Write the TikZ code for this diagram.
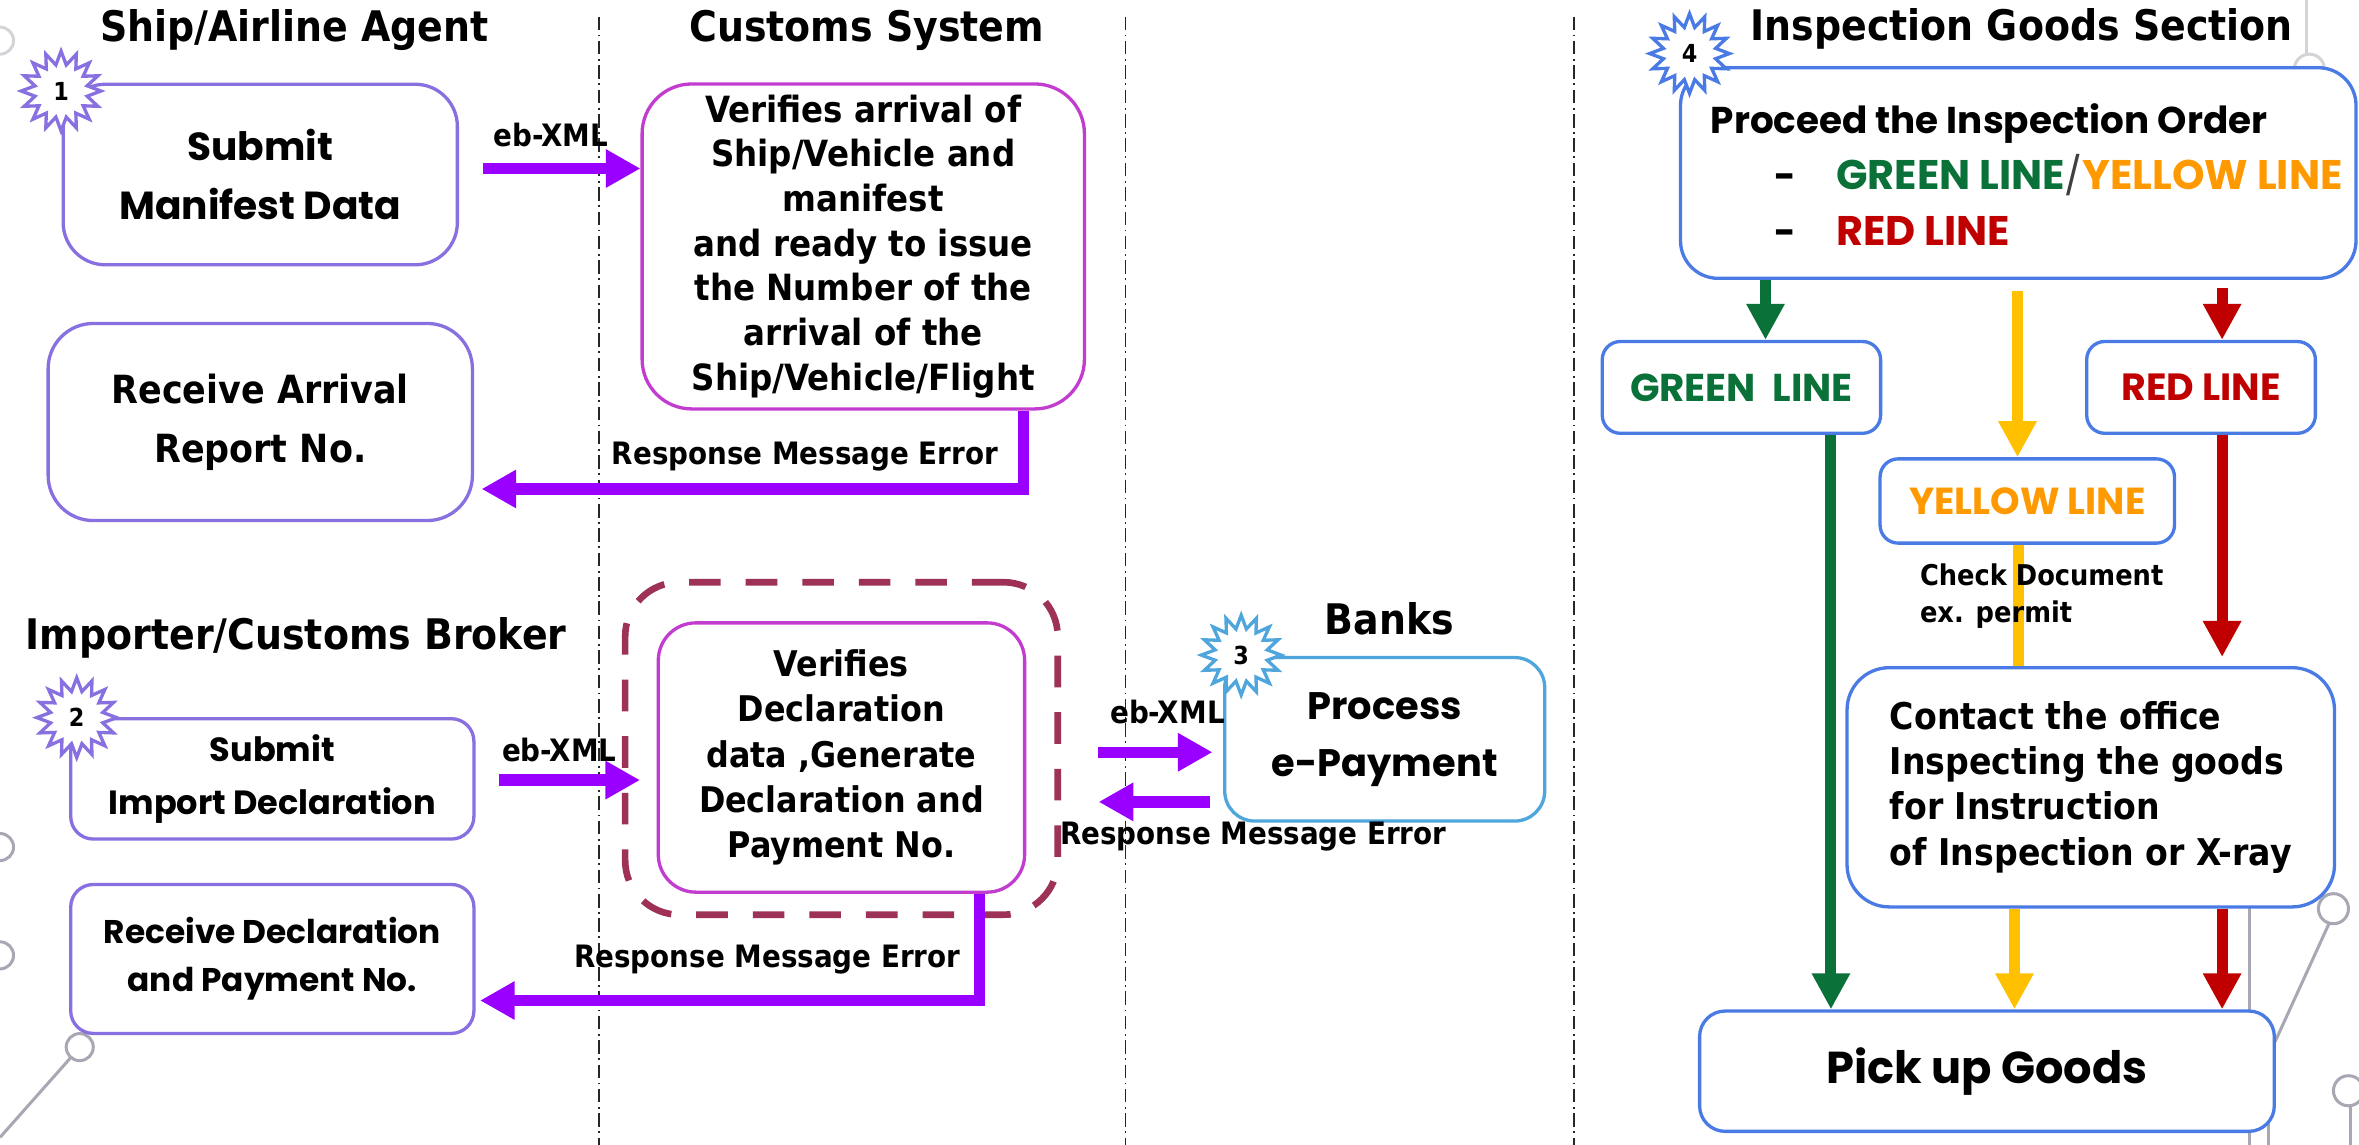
\documentclass[tikz,border=0pt]{standalone}
\usepackage{fontspec}
\setmainfont{DejaVu Sans Condensed}
\newfontfamily\geofont{Poppins}
\usetikzlibrary{arrows.meta}
\usetikzlibrary{shapes.geometric}

\definecolor{agentpurple}{HTML}{8970E0}
\definecolor{custmagenta}{HTML}{C23CD0}
\definecolor{framemaroon}{HTML}{9E3157}
\definecolor{msgviolet}{HTML}{9900FF}
\definecolor{bankblue}{HTML}{4EA6DC}
\definecolor{inspblue}{HTML}{4A7BE5}
\definecolor{linegreen}{HTML}{0A7139}
\definecolor{lineyellow}{HTML}{FFC000}
\definecolor{lineorange}{HTML}{FF9900}
\definecolor{linered}{HTML}{C00000}
\definecolor{decogray}{HTML}{A8A8B4}
\definecolor{decolight}{HTML}{D4D4D8}

\newcommand{\sysfs}[2]{\fontsize{#1}{#2}\selectfont\bfseries}
\newcommand{\geofs}[2]{\geofont\fontsize{#1}{#2}\selectfont\bfseries}

\tikzset{
  lane/.style={draw=black!85, line width=1.1pt, dash pattern=on 9pt off 3pt on 1.2pt off 3pt},
  deco/.style={draw=decogray, line width=2pt},
  box/.style={draw, fill=white, line width=2.2pt, align=center, inner sep=0pt},
  frame/.style={draw=framemaroon, line width=4.4pt, dash pattern=on 21pt off 16.6pt, rounded corners=36pt, inner sep=0pt},
  badge/.style={star, star points=16, star point ratio=1.5, fill=white, line width=2.2pt, minimum size=53pt, inner sep=0pt, font=\sysfs{16.5}{18}},
  title/.style={inner sep=0pt, font=\sysfs{28}{32}},
  msglabel/.style={inner sep=0pt, font=\sysfs{20.5}{24}},
  msgarrow/.style={draw=msgviolet, line width=7.5pt, -{Triangle[width=24pt,length=23pt]}},
  greenarrow/.style={draw=linegreen, line width=7.3pt, -{Triangle[width=24pt,length=24pt]}},
  yellowarrow/.style={draw=lineyellow, line width=7.3pt, -{Triangle[width=24pt,length=24pt]}},
  redarrow/.style={draw=linered, line width=7.3pt, -{Triangle[width=24pt,length=24pt]}},
  yellowline/.style={draw=lineyellow, line width=7.3pt}
}

\begin{document}
\begin{tikzpicture}[x=1pt, y=-1pt]
\fill[white] (0,0) rectangle (1568,761);
\useasboundingbox (0,0) rectangle (1568,761); % adjust bounding box

% background ornaments
\draw[deco, draw=decolight] (0,27) circle (9pt);
\draw[deco, draw=decolight] (1533,0) -- (1533,36);
\draw[deco, draw=decolight] (1535,46) circle (10pt);
\draw[deco] (0,563) circle (9pt);
\draw[deco] (0,635) circle (9pt);
\draw[deco] (53,696) circle (9pt);
\draw[deco] (47,703) -- (0,756);
\draw[deco] (1495,603) -- (1495,761);
\draw[deco] (1508,689) -- (1508,761);
\draw[deco] (1551,604) circle (10pt);
\draw[deco] (1548,614) -- (1511,695);
\draw[deco] (1561,725) circle (10pt);
\draw[deco] (1562,735) -- (1562,761);

\draw[lane] (398,11) -- (398,761);
\draw[lane] (748,11) -- (748,761);
\draw[lane] (1046,11) -- (1046,761);

\node[title] (agenttitle) at (195.8,20) {Ship/Airline Agent};
\node[title] (systitle) at (576,20) {Customs System};
\node[title] (brokertitle) at (196.8,424) {Importer/Customs Broker};
\node[title] (banktitle) at (923.6,411) {Banks};
\node[title] (insptitle) at (1343.8,19) {Inspection Goods Section};

\node[box, draw=agentpurple, rounded corners=28pt, minimum width=262pt, minimum height=120pt, font=\geofs{26}{39}] (sub1) at (173,116) {Submit\\Manifest Data};
\node[box, draw=agentpurple, rounded corners=30pt, minimum width=282pt, minimum height=131pt, font=\sysfs{25.8}{39.5}] (rcv1) at (173,280.5) {Receive Arrival\\Report No.};
\node[box, draw=custmagenta, rounded corners=33pt, minimum width=294pt, minimum height=216pt, font=\sysfs{24}{29.7}] (cust1) at (573.8,163.8) {Verifies arrival of\\Ship/Vehicle and\\manifest\\and ready to issue\\the Number of the\\arrival of the\\Ship/Vehicle/Flight};

\node[box, draw=agentpurple, rounded corners=15pt, minimum width=268pt, minimum height=80pt, font=\geofs{22.3}{35}] (sub2) at (181,517.7) {Submit\\Import Declaration};
\node[box, draw=agentpurple, rounded corners=15pt, minimum width=268pt, minimum height=99pt, font=\geofs{21.8}{32}] (rcv2) at (181,637.4) {Receive Declaration\\and Payment No.};
\node[frame, minimum width=287.5pt, minimum height=221pt] (frame) at (559.3,497.5) {};
\node[box, draw=custmagenta, rounded corners=25pt, minimum width=243.5pt, minimum height=179pt, font=\sysfs{23.5}{30}] (cust2) at (559.3,503.5) {Verifies\\Declaration\\data ,Generate\\Declaration and\\Payment No.};
\node[box, draw=bankblue, rounded corners=20pt, minimum width=212.7pt, minimum height=108.7pt, font=\geofs{25.5}{38}] (bank) at (920.4,491.4) {Process\\e-Payment};

\node[box, draw=inspblue, rounded corners=25pt, minimum width=449pt, minimum height=140pt] (insp) at (1341.5,115) {};
\node[anchor=west, align=left, inner sep=0pt, font=\geofs{24.8}{37}] (order) at (1137,116) {Proceed the Inspection Order\\
  \hspace*{42pt}-\hspace{27pt}{\fontsize{27.5}{37}\selectfont\color{linegreen}GREEN LINE}{\color{darkgray}\mdseries/}{\fontsize{27.5}{37}\selectfont\color{lineorange}YELLOW LINE}\\
  \hspace*{42pt}-\hspace{27pt}{\fontsize{27.5}{37}\selectfont\color{linered}RED LINE}};
\node[box, draw=inspblue, rounded corners=12pt, minimum width=185pt, minimum height=61pt, text=linegreen, font=\geofs{25.8}{28}] (green) at (1157.5,257.5) {GREEN\ \ LINE};
\node[box, draw=inspblue, rounded corners=12pt, minimum width=152pt, minimum height=61pt, text=linered, font=\geofs{25.2}{28}] (red) at (1463,257.5) {RED LINE};
\node[box, draw=inspblue, rounded corners=12pt, minimum width=195.7pt, minimum height=56pt, text=lineorange, font=\geofs{25}{28}] (yellow) at (1347.5,333) {YELLOW LINE};
\node[box, draw=inspblue, rounded corners=28pt, minimum width=324pt, minimum height=159pt, align=left, font=\sysfs{24.5}{30}] (contact) at (1389.7,523.3) {Contact the office\\Inspecting the goods\\for Instruction\\of Inspection or X-ray};
\node[box, draw=inspblue, rounded corners=17pt, minimum width=382pt, minimum height=80pt, font=\geofs{29.7}{34}] (pickup) at (1320.7,712) {Pick up Goods};

\node[badge, draw=agentpurple] (n1) at (40.6,60.5) {1};
\node[badge, draw=agentpurple] (n2) at (51,477) {2};
\node[badge, draw=bankblue] (n3) at (825,435.4) {3};
\node[badge, draw=inspblue] (n4) at (1123,35.6) {4};

% messages
\coordinate (ebx1) at (321,112);
\coordinate (err1) at (680.4,325);
\coordinate (ebx2) at (331.6,518.5);
\coordinate (err2) at (651,665);
\coordinate (pay1) at (730,500);
\coordinate (pay2) at (804,533);
\draw[msgarrow] (ebx1) -- (cust1.west |- ebx1);
\draw[msgarrow, shorten >=5pt] (cust1.south -| err1) -- (err1) -- (rcv1.east |- err1);
\draw[msgarrow, shorten >=11pt] (ebx2) -- (cust2.west |- ebx2);
\draw[msgarrow, shorten >=3pt] (cust2.south -| err2) -- (err2) -- (rcv2.east |- err2);
\draw[msgarrow, shorten >=7pt] (pay1) -- (bank.west |- pay1);
\draw[msgarrow, shorten >=25pt] (pay2) -- (frame.east |- pay2);
\node[msglabel] (xml1) at (366,90) {eb-XML};
\node[msglabel] (xml2) at (371.8,498.6) {eb-XML};
\node[msglabel] (xml3) at (776,473) {eb-XML};
\node[msglabel] (err1lbl) at (535,303.8) {Response Message Error};
\node[msglabel] (err2lbl) at (510,637.5) {Response Message Error};
\node[msglabel] (err3lbl) at (833,556) {Response Message Error};

% inspection lines
\draw[greenarrow] ([xshift=16pt]green.north |- insp.south) -- ([xshift=16pt]green.north);
\draw[yellowarrow, shorten <=7pt] ([xshift=-6.5pt]yellow.north |- insp.south) -- ([xshift=-6.5pt]yellow.north);
\draw[redarrow, shorten <=5pt] ([xshift=14pt]red.north |- insp.south) -- ([xshift=14pt]red.north);
\draw[greenarrow] ([xshift=59.5pt]green.south) -- ([xshift=59.5pt]green.south |- pickup.north);
\draw[yellowline] ([xshift=-6pt]yellow.south) -- ([xshift=-6pt]yellow.south |- contact.north);
\draw[redarrow, shorten >=6pt] ([xshift=14pt]red.south) -- ([xshift=14pt]red.south |- contact.north);
\draw[yellowarrow] ([xshift=-8.5pt]yellow.south |- contact.south) -- ([xshift=-8.5pt]yellow.south |- pickup.north);
\draw[redarrow] ([xshift=14pt]red.south |- contact.south) -- ([xshift=14pt]red.south |- pickup.north);
\node[anchor=west, align=left, inner sep=0pt, font=\sysfs{19}{24.4}] (checknote) at (1276,396) {Check Document\\ex. permit};
\end{tikzpicture}
\end{document}
